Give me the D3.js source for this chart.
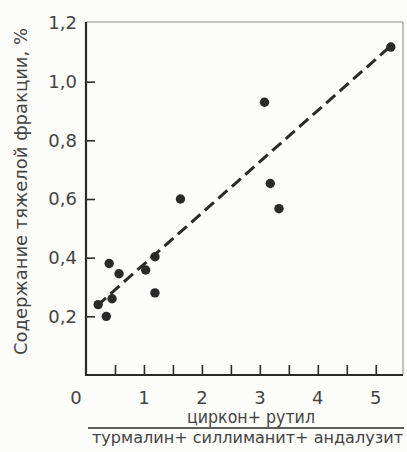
<!DOCTYPE html>
<html>
<head>
<meta charset="utf-8">
<script src="https://cdn.jsdelivr.net/npm/d3@7"></script>
<style>
  body { margin: 0; background: #fcfcfa; }
  svg { display: block; }
  text { font-family: "DejaVu Sans", sans-serif; fill: #444; }
</style>
</head>
<body>
<svg id="chart" width="407" height="452"></svg>
<script>
// ratio (циркон+рутил)/(турмалин+силлиманит+андалузит)
let ratio = [0.21, 0.35, 0.45, 0.40, 0.57, 1.03, 1.19, 1.19, 1.63, 3.08, 3.18, 3.33, 5.26]
// heavy fraction content, %
let heavy = [0.24, 0.20, 0.26, 0.38, 0.345, 0.358, 0.403, 0.28, 0.60, 0.93, 0.653, 0.567, 1.118]

// dashed trend line ends
let trendX = [0.19, 5.22]
let trendY = [0.236, 1.115]

let yTicks = [0.2, 0.4, 0.6, 0.8, 1.0, 1.2]
let xTicks = [0.5, 1, 1.5, 2, 2.5, 3, 3.5, 4, 4.5, 5]
let xLabels = [0, 1, 2, 3, 4, 5]

let yTitle = 'Содержание тяжелой фракции, %'
let xTitleTop = 'циркон+ рутил'
let xTitleBottom = 'турмалин+ силлиманит+ андалузит'

let svg = d3.select('#chart')
let ink = '#2a2a2a'

let padL = 86, padR = 403, padT = 22, padB = 375

let x = d3.scaleLinear().domain([0, 5.45]).range([padL, padL + (padR - padL) * 5.45 / 5.47])
let y = d3.scaleLinear().domain([0, 1.2]).range([padB, padT + 1])

let comma = d => d3.format('.1f')(d).replace('.', ',')

// thin top/right frame
svg.append('path')
  .attr('d', `M${padL},${padT}H${padR}V${padB}`)
  .attr('fill', 'none')
  .attr('stroke', '#8a8a8a')
  .attr('stroke-width', 1)

// y axis, ticks pointing inside
let yAxis = svg.append('g')
  .attr('transform', `translate(${padL},0)`)
  .call(d3.axisRight(y).tickValues(yTicks.filter(d => d < 1.2)).tickSize(9).tickFormat(''))
yAxis.select('.domain').remove()
yAxis.selectAll('line').attr('stroke', ink).attr('stroke-width', 1.6)

svg.selectAll('.ylab')
  .data(yTicks)
  .enter()
  .append('text')
  .attr('class', 'ylab')
  .attr('x', padL - 9)
  .attr('y', d => y(d))
  .attr('dy', '0.35em')
  .attr('text-anchor', 'end')
  .attr('font-size', 18)
  .text(comma)

// x axis, ticks pointing up
let xAxis = svg.append('g')
  .attr('transform', `translate(0,${padB})`)
  .call(d3.axisTop(x).tickValues(xTicks).tickSize(10).tickFormat(''))
xAxis.select('.domain').remove()
xAxis.selectAll('line').attr('stroke', ink).attr('stroke-width', 1.6)

svg.selectAll('.xlab')
  .data(xLabels)
  .enter()
  .append('text')
  .attr('class', 'xlab')
  .attr('x', d => d === 0 ? x(d) - 10 : x(d))
  .attr('y', 404)
  .attr('text-anchor', 'middle')
  .attr('font-size', 18)
  .text(d => d)

// heavy left/bottom axis lines
svg.append('path')
  .attr('d', `M${padL},${padT}V${padB}H${padR}`)
  .attr('fill', 'none')
  .attr('stroke', ink)
  .attr('stroke-width', 2.2)

// trend line
svg.append('line')
  .attr('x1', x(trendX[0])).attr('y1', y(trendY[0]))
  .attr('x2', x(trendX[1])).attr('y2', y(trendY[1]))
  .attr('stroke', ink)
  .attr('stroke-width', 3)
  .attr('stroke-dasharray', '12,6')

// points
svg.selectAll('circle')
  .data(ratio.map((r, i) => [r, heavy[i]]))
  .enter()
  .append('circle')
  .attr('cx', d => x(d[0]))
  .attr('cy', d => y(d[1]))
  .attr('r', 4.7)
  .attr('fill', ink)

// titles
svg.append('text')
  .attr('transform', `translate(27,${(28 + 355) / 2}) rotate(-90)`)
  .attr('text-anchor', 'middle')
  .attr('font-size', 18)
  .attr('textLength', 327)
  .attr('lengthAdjust', 'spacingAndGlyphs')
  .text(yTitle)

svg.append('text')
  .attr('x', 251)
  .attr('y', 423)
  .attr('text-anchor', 'middle')
  .attr('font-size', 18)
  .attr('textLength', 128)
  .attr('lengthAdjust', 'spacingAndGlyphs')
  .text(xTitleTop)

svg.append('line')
  .attr('x1', 88).attr('x2', 404)
  .attr('y1', 428).attr('y2', 428)
  .attr('stroke', ink)
  .attr('stroke-width', 1.6)

svg.append('text')
  .attr('x', 92)
  .attr('y', 443)
  .attr('font-size', 16)
  .attr('textLength', 311)
  .attr('lengthAdjust', 'spacingAndGlyphs')
  .text(xTitleBottom)
</script>
</body>
</html>
